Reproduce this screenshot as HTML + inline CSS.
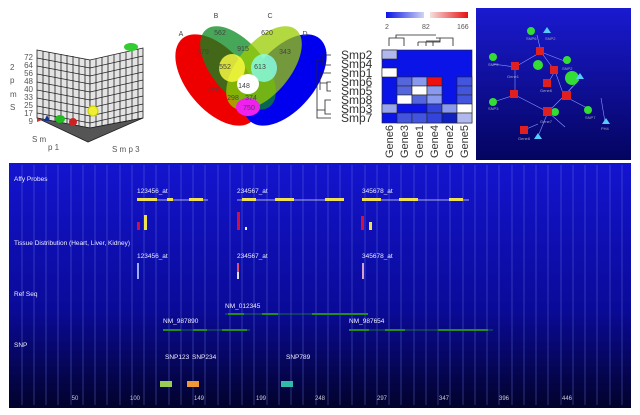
<!DOCTYPE html><html><head><style>body{margin:0;width:640px;height:410px;background:#fff;overflow:hidden;font-family:"Liberation Sans",sans-serif}</style></head><body>
<svg width="640" height="410" xmlns="http://www.w3.org/2000/svg" font-family="Liberation Sans, sans-serif">
<defs>
<linearGradient id="bg" x1="0" y1="0" x2="0" y2="1"><stop offset="0" stop-color="#1414d0"/><stop offset="0.6" stop-color="#0a0a98"/><stop offset="1" stop-color="#02022a"/></linearGradient>
<linearGradient id="nb" x1="0" y1="0" x2="0" y2="1"><stop offset="0" stop-color="#1a1ad0"/><stop offset="1" stop-color="#040460"/></linearGradient>
<linearGradient id="cb1" x1="0" x2="1"><stop offset="0" stop-color="#0a14e6"/><stop offset="1" stop-color="#d0d4f4"/></linearGradient>
<linearGradient id="cb2" x1="0" x2="1"><stop offset="0" stop-color="#f6dede"/><stop offset="1" stop-color="#e81010"/></linearGradient>
</defs>
<!-- 3D plot -->
<g stroke="#222" stroke-width="0.8">
<polygon points="37,50 90,60 90,128 37,118" fill="#e4e4e4"/>
<polygon points="90,60 143,48 143,118 90,128" fill="#e4e4e4"/>
<polygon points="37,118 90,128 143,118 88,142" fill="#555"/>
<path d="M43,51V119M49,52V120M55,53V121M61,54V122M67,55V123M73,56V125M79,58V126M85,59V127M96,59V127M102,57V126M108,56V125M114,55V124M120,53V123M126,52V122M132,51V120M138,49V119"/>
<path d="M37,58 L90,68 L143,56 M37,66 L90,76 L143,64 M37,74 L90,84 L143,72 M37,82 L90,92 L143,80 M37,90 L90,100 L143,88 M37,98 L90,108 L143,96 M37,106 L90,116 L143,104 M37,113 L90,123 L143,111" fill="none"/>
</g>
<g font-size="8" fill="#555" text-anchor="end"><text x="33" y="60">72</text><text x="33" y="68">64</text><text x="33" y="76">56</text><text x="33" y="84">48</text><text x="33" y="92">40</text><text x="33" y="100">33</text><text x="33" y="108">25</text><text x="33" y="116">17</text><text x="33" y="124">9</text></g>
<g font-size="8" fill="#555"><text x="10" y="70">2</text><text x="10" y="83">p</text><text x="10" y="97">m</text><text x="10" y="110">S</text>
<text x="32" y="142">S m</text><text x="48" y="150">p 1</text><text x="112" y="152">S m p 3</text></g>
<ellipse cx="131" cy="47" rx="7" ry="4" fill="#3c3"/>
<circle cx="93" cy="111" r="5" fill="#ee3" stroke="#cc0"/>
<ellipse cx="60" cy="119" rx="5" ry="4" fill="#2b2"/>
<circle cx="73" cy="122" r="4" fill="#c22"/>
<path d="M44,121 l3,-6 l3,6z" fill="#139"/><path d="M37,118 l5,2 l-5,2z" fill="#c33"/>
<!-- Venn -->
<ellipse cx="217" cy="80" rx="30" ry="54" transform="rotate(-40 217 80)" fill="#ee0000"/>
<ellipse cx="285" cy="80" rx="30" ry="54" transform="rotate(40 285 80)" fill="#0000ee"/>
<ellipse cx="238" cy="68" rx="26" ry="50" transform="rotate(-40 238 68)" fill="#0a8a20" opacity="0.75"/>
<ellipse cx="264" cy="68" rx="26" ry="50" transform="rotate(40 264 68)" fill="#99cc00" opacity="0.75"/>
<ellipse cx="232" cy="68" rx="13" ry="14" fill="#ffff44" opacity="0.8"/>
<ellipse cx="264" cy="68" rx="13" ry="14" fill="#88ffee" opacity="0.8"/>
<ellipse cx="248" cy="84" rx="11" ry="10" fill="#ffffff"/>
<ellipse cx="248" cy="107" rx="12" ry="9" fill="#ee22ee"/>
<g font-size="7" fill="#444" text-anchor="middle"><text x="181" y="36">A</text><text x="216" y="18">B</text><text x="270" y="18">C</text><text x="305" y="36">D</text>
<text x="243" y="51">915</text><text x="225" y="69">552</text><text x="260" y="69">613</text><text x="244" y="88">148</text><text x="214" y="92">356</text><text x="233" y="100">298</text><text x="251" y="100">374</text><text x="203" y="54">579</text><text x="285" y="54">343</text><text x="220" y="35">562</text><text x="267" y="35">620</text><text x="249" y="110">750</text></g>
<!-- heatmap colorbar -->
<rect x="386" y="12" width="38" height="6" fill="url(#cb1)"/><rect x="430" y="12" width="38" height="6" fill="url(#cb2)"/>
<g font-size="7" fill="#555"><text x="385" y="29">2</text><text x="422" y="29">82</text><text x="457" y="29">166</text></g>
<g stroke="#222" fill="none" stroke-width="0.8"><path d="M389,46 V38 H404 V46 M396,38 V35 H436 M418,42 V46 M418,42 H440 V38 M426,42 V46 M433,42 V46 M426,41 H440 M453,46 V38 H436"/>
<path d="M331,55 H323 V65 H331 M323,60 H317 V118 H331 M317,110 H325 V100 H331 M325,110 V114 H331 M320,90 V73 H331 M320,83 H327 V82 H331 M327,82 V91 H331"/></g>
<g font-size="12" fill="#333"><text x="341" y="59">Smp2</text><text x="341" y="68">Smp4</text><text x="341" y="77">Smp1</text><text x="341" y="86">Smp6</text><text x="341" y="95">Smp5</text><text x="341" y="104">Smp8</text><text x="341" y="113">Smp3</text><text x="341" y="122">Smp7</text></g>
<g stroke="#222" stroke-width="0.6">
<rect x="382" y="50" width="90" height="73" fill="#0a14e6"/>
<rect x="382" y="50" width="15" height="9" fill="#b0b8ee"/>
<rect x="382" y="68" width="15" height="9" fill="#fff"/>
<rect x="397" y="77" width="15" height="9" fill="#5566dd"/><rect x="412" y="77" width="15" height="9" fill="#8899ee"/><rect x="427" y="77" width="15" height="9" fill="#ee1010"/><rect x="457" y="77" width="15" height="9" fill="#4455dd"/>
<rect x="397" y="86" width="15" height="9" fill="#5566dd"/><rect x="412" y="86" width="15" height="9" fill="#fff"/><rect x="427" y="86" width="15" height="9" fill="#8899ee"/><rect x="457" y="86" width="15" height="9" fill="#4455dd"/>
<rect x="397" y="95" width="15" height="9" fill="#fff"/><rect x="412" y="95" width="15" height="9" fill="#5566dd"/><rect x="427" y="95" width="15" height="9" fill="#8899ee"/><rect x="457" y="95" width="15" height="9" fill="#4455dd"/>
<rect x="382" y="104" width="15" height="9" fill="#99a4ee"/><rect x="427" y="104" width="15" height="9" fill="#3344dd"/><rect x="442" y="104" width="15" height="9" fill="#8899ee"/><rect x="457" y="104" width="15" height="9" fill="#fff"/>
<rect x="397" y="113" width="15" height="10" fill="#4455dd"/><rect x="412" y="113" width="15" height="10" fill="#4455dd"/><rect x="427" y="113" width="15" height="10" fill="#3344dd"/><rect x="442" y="113" width="15" height="10" fill="#1020c0"/><rect x="457" y="113" width="15" height="10" fill="#b0b8ee"/>
</g>
<g font-size="11" fill="#333"><text transform="translate(393,158) rotate(-90)">Gene6</text><text transform="translate(408,158) rotate(-90)">Gene3</text><text transform="translate(423,158) rotate(-90)">Gene1</text><text transform="translate(438,158) rotate(-90)">Gene4</text><text transform="translate(453,158) rotate(-90)">Gene2</text><text transform="translate(468,158) rotate(-90)">Gene5</text></g>
<!-- network -->
<rect x="476" y="8" width="155" height="152" fill="url(#nb)"/>
<g stroke="#8899ff" stroke-width="0.6" fill="none"><path d="M541,52 L515,67 L515,95 L548,112 L565,127 M541,52 L555,71 L548,83 M541,52 L567,62 M555,71 L564,96 L548,112 M515,95 L493,102 M537,35 L541,52 M547,112 L558,110 M564,96 L591,110 M564,96 L573,86 M524,130 L538,124 M548,112 L539,134 M601,98 L605,122 M493,64 L515,67 M564,96 L579,80"/></g>
<g fill="#33dd33"><circle cx="531" cy="31" r="4"/><circle cx="493" cy="57" r="4"/><circle cx="538" cy="65" r="5"/><circle cx="567" cy="60" r="4"/><circle cx="572" cy="78" r="7"/><circle cx="493" cy="102" r="4"/><circle cx="555" cy="112" r="4"/><circle cx="588" cy="110" r="4"/></g>
<g fill="#55ccff"><path d="M547,27 l4,6 h-8z M580,73 l4,6 h-8z M606,118 l4,6 h-8z M538,133 l4,6 h-8z"/></g>
<g fill="#e02020"><rect x="536" y="47" width="8" height="8"/><rect x="511" y="62" width="8" height="8"/><rect x="550" y="66" width="8" height="8"/><rect x="543" y="79" width="8" height="8"/><rect x="510" y="90" width="8" height="8"/><rect x="562" y="91" width="9" height="9"/><rect x="543" y="107" width="9" height="9"/><rect x="520" y="126" width="8" height="8"/></g>
<g font-size="4" fill="#aab"><text x="526" y="40">SNP6</text><text x="545" y="40">SNP2</text><text x="488" y="66">SNP5</text><text x="507" y="78">Gene1</text><text x="562" y="70">SNP2</text><text x="540" y="92">Gene6</text><text x="488" y="110">SNP3</text><text x="540" y="123">Gene7</text><text x="585" y="119">SNP7</text><text x="601" y="130">PH4</text><text x="518" y="140">Gene8</text></g>
<!-- genome panel -->
<rect x="9" y="163" width="622" height="245" fill="url(#bg)"/>
<g stroke="#6f7fe0" stroke-width="0.5" opacity="0.8">
<path d="M22,165V405M34,165V405M46,165V405M58,165V405M71,165V405M83,165V405M95,165V405M107,165V405M120,165V405M132,165V405M144,165V405M156,165V405M169,165V405M181,165V405M193,165V405M205,165V405M218,165V405M230,165V405M242,165V405M254,165V405M267,165V405M279,165V405M291,165V405M303,165V405M316,165V405M328,165V405M340,165V405M352,165V405M365,165V405M377,165V405M389,165V405M401,165V405M414,165V405M426,165V405M438,165V405M450,165V405M463,165V405M475,165V405M487,165V405M499,165V405M512,165V405M524,165V405M536,165V405M548,165V405M561,165V405M573,165V405M585,165V405M597,165V405M610,165V405M622,165V405"/></g>
<g font-size="6.5" fill="#eef"><text x="14" y="181">Affy Probes</text><text x="14" y="245">Tissue Distribution (Heart, Liver, Kidney)</text><text x="14" y="296">Ref Seq</text><text x="14" y="347">SNP</text>
<text x="137" y="193">123456_at</text><text x="237" y="193">234567_at</text><text x="362" y="193">345678_at</text>
<text x="137" y="258">123456_at</text><text x="237" y="258">234567_at</text><text x="362" y="258">345678_at</text>
<text x="225" y="308">NM_012345</text><text x="163" y="323">NM_987890</text><text x="349" y="323">NM_987654</text>
<text x="165" y="359">SNP123</text><text x="192" y="359">SNP234</text><text x="286" y="359">SNP789</text></g>
<g stroke="#ddd" stroke-width="0.7" fill="none"><path d="M137,200 H208 M237,200 H344 M362,200 H469"/></g>
<g fill="#eee050"><rect x="137" y="198" width="20" height="3"/><rect x="167" y="198" width="6" height="3"/><rect x="189" y="198" width="14" height="3"/><rect x="242" y="198" width="14" height="3"/><rect x="275" y="198" width="19" height="3"/><rect x="325" y="198" width="19" height="3"/><rect x="362" y="198" width="19" height="3"/><rect x="399" y="198" width="19" height="3"/><rect x="449" y="198" width="14" height="3"/></g>
<rect x="137" y="222" width="3" height="8" fill="#d01040"/><rect x="144" y="215" width="3" height="15" fill="#eee050"/>
<rect x="237" y="212" width="3" height="18" fill="#d01040"/><rect x="245" y="227" width="2" height="3" fill="#eee"/>
<rect x="361" y="216" width="3" height="14" fill="#d01040"/><rect x="369" y="222" width="3" height="8" fill="#eee050"/>
<rect x="137" y="263" width="2" height="16" fill="#99aaff"/><rect x="237" y="263" width="2" height="9" fill="#e05070"/><rect x="237" y="272" width="2" height="7" fill="#ddd"/><rect x="362" y="263" width="2" height="16" fill="#d0a0d0"/>
<g stroke="#1f8f1f" stroke-width="0.7"><path d="M225,314 H368 M163,330 H250 M349,330 H493"/></g>
<g fill="#228b22"><rect x="228" y="313" width="16" height="2"/><rect x="262" y="313" width="16" height="2"/><rect x="312" y="313" width="56" height="2"/><rect x="163" y="329" width="18" height="2"/><rect x="193" y="329" width="14" height="2"/><rect x="222" y="329" width="25" height="2"/><rect x="349" y="329" width="20" height="2"/><rect x="385" y="329" width="20" height="2"/><rect x="438" y="329" width="50" height="2"/></g>
<g><rect x="160" y="381" width="12" height="6" fill="#99cc55"/><rect x="187" y="381" width="12" height="6" fill="#ee9933"/><rect x="281" y="381" width="12" height="6" fill="#33bbaa"/></g>
<g font-size="6" fill="#ccd" text-anchor="middle"><text x="75" y="400">50</text><text x="135" y="400">100</text><text x="199" y="400">149</text><text x="261" y="400">199</text><text x="320" y="400">248</text><text x="382" y="400">297</text><text x="444" y="400">347</text><text x="504" y="400">396</text><text x="567" y="400">446</text></g>
</svg></body></html>
